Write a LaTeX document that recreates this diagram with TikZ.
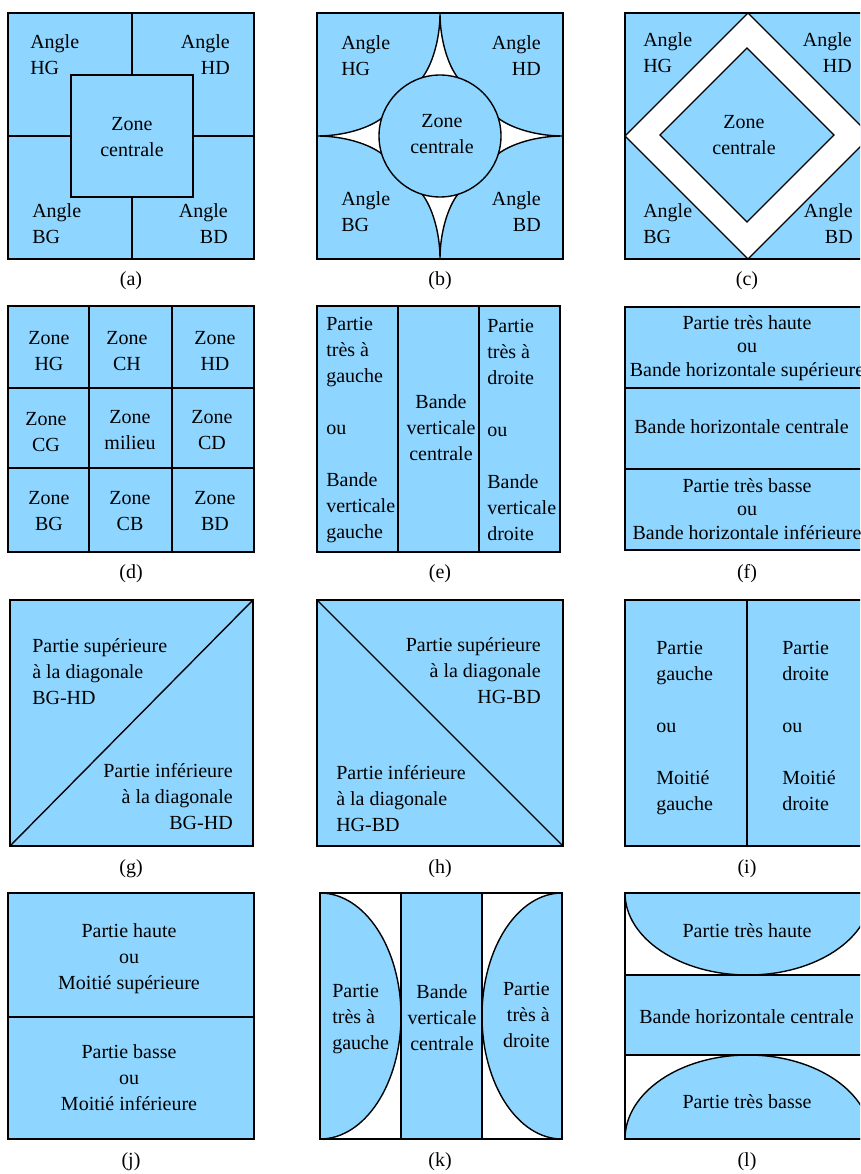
\documentclass[tikz,border=0pt]{standalone}
\usepackage{fontspec}
\setmainfont{Liberation Serif}
\usepackage{tikz}
\definecolor{bleuzone}{RGB}{142,214,255}
\newcommand{\policeA}{\fontsize{14.4pt}{18.72pt}\selectfont}
\newcommand{\policeB}{\fontsize{14.4pt}{16.92pt}\selectfont}
\tikzstyle{zone}   =[fill=bleuzone, draw=black, line width=1pt]
\tikzstyle{vide}   =[fill=white, draw=black, line width=1pt]
\tikzstyle{trait}  =[draw=black, line width=1pt]
\tikzstyle{texte}  =[inner sep=0pt, font=\policeA]
\tikzstyle{serre}  =[inner sep=0pt, font=\policeB]
\tikzstyle{legende}=[inner sep=0pt, font=\policeA]
\begin{document}
\begin{tikzpicture}[x=0.72pt, y=-0.72pt]
        \useasboundingbox (0,0) rectangle (860,1174);
        \clip (0,0) rectangle (860,1174);

        % (a)
        \filldraw[zone] (8,13) rectangle (254,259);
        \draw[trait] (132,13) -- (132,259) (8,136) -- (254,136);
        \filldraw[zone] (71,75) rectangle (193,197);
        \node[texte, anchor=north west, align=left] (aHG) at (30,30.5) {\strut Angle\\HG};
        \node[texte, anchor=north east, align=right] (aHD) at (230,30.5) {\strut Angle\\HD};
        \node[texte, anchor=north west, align=left] (aBG) at (32,198.8) {\strut Angle\\BG};
        \node[texte, anchor=north east, align=right] (aBD) at (228,198.8) {\strut Angle\\BD};
        \node[texte, anchor=north, align=center] (aZC) at (132,111.8) {\strut Zone\\centrale};
        \node[legende] (capa) at (131,281) {(a)};

        % (b)
        \filldraw[zone] (317,13) rectangle (563,259);
        \begin{scope}[shift={(440,136)}]
                \foreach \a in {0,90,180,270}
                        \filldraw[vide, rotate=\a] (0,-123) .. controls (0,-96) and (-8,-71) .. (-17.8,-58.3)
                                -- (0,-30) -- (17.8,-58.3) .. controls (8,-71) and (0,-96) .. (0,-123) -- cycle;
                \filldraw[zone] (0,0) circle (61);
        \end{scope}
        \node[texte, anchor=north west, align=left] (bHG) at (341,30.8) {\strut Angle\\HG};
        \node[texte, anchor=north east, align=right] (bHD) at (541,30.8) {\strut Angle\\HD};
        \node[texte, anchor=north west, align=left] (bBG) at (341,186.8) {\strut Angle\\BG};
        \node[texte, anchor=north east, align=right] (bBD) at (541,186.8) {\strut Angle\\BD};
        \node[texte, anchor=north, align=center] (bZC) at (442,108.8) {\strut Zone\\centrale};
        \node[legende] (capb) at (440,281) {(b)};

        % (c)
        \filldraw[zone] (625,13) rectangle (871,259);
        \filldraw[vide] (748,13) -- (625,136) -- (748,259) -- (871,136) -- cycle;
        \filldraw[zone] (747,48) -- (660,135) -- (747,222) -- (834,135) -- cycle;
        \node[texte, anchor=north west, align=left] (cHG) at (643,28.5) {\strut Angle\\HG};
        \node[texte, anchor=north east, align=right] (cHD) at (852,28.5) {\strut Angle\\HD};
        \node[texte, anchor=north west, align=left] (cBG) at (643,199.3) {\strut Angle\\BG};
        \node[texte, anchor=north east, align=right] (cBD) at (853,199.3) {\strut Angle\\BD};
        \node[texte, anchor=north, align=center] (cZC) at (744,109.8) {\strut Zone\\centrale};
        \node[legende] (capc) at (747,281) {(c)};

        % (d)
        \filldraw[zone] (8,306) rectangle (254,552);
        \draw[trait] (89,306) -- (89,552) (172,306) -- (172,552) (8,388) -- (254,388) (8,468) -- (254,468);
        \node[texte, anchor=north, align=center] (dHG) at (49,325.8) {\strut Zone\\HG};
        \node[texte, anchor=north, align=center] (dCH) at (127,325.8) {\strut Zone\\CH};
        \node[texte, anchor=north, align=center] (dHD) at (215,325.8) {\strut Zone\\HD};
        \node[texte, anchor=north, align=center] (dCG) at (46,406.8) {\strut Zone\\CG};
        \node[texte, anchor=north, align=center] (dMI) at (130,404.8) {\strut Zone\\milieu};
        \node[texte, anchor=north, align=center] (dCD) at (212,404.8) {\strut Zone\\CD};
        \node[texte, anchor=north, align=center] (dBG) at (49,485.8) {\strut Zone\\BG};
        \node[texte, anchor=north, align=center] (dCB) at (130,485.8) {\strut Zone\\CB};
        \node[texte, anchor=north, align=center] (dBD) at (215,485.8) {\strut Zone\\BD};
        \node[legende] (capd) at (131,574) {(d)};

        % (e)
        \filldraw[zone] (317,306) rectangle (560,552);
        \draw[trait] (398,306) -- (398,552) (479,306) -- (479,552);
        \node[texte, anchor=north west, align=left] (eG) at (326,311.8)
                {\strut Partie\\très à\\gauche\\[\baselineskip]ou\\[\baselineskip]Bande\\verticale\\gauche};
        \node[texte, anchor=north, align=center] (eC) at (441,389.8) {\strut Bande\\verticale\\centrale};
        \node[texte, anchor=north west, align=left] (eD) at (487,313.8)
                {\strut Partie\\très à\\droite\\[\baselineskip]ou\\[\baselineskip]Bande\\verticale\\droite};
        \node[legende] (cape) at (440,574) {(e)};

        % (f)
        \filldraw[zone] (625,307) rectangle (871,550);
        \draw[trait] (625,388) -- (871,388) (625,469) -- (871,469);
        \node[serre, anchor=north, align=center] (fH) at (747,312.6)
                {\strut Partie très haute\\ou\\Bande horizontale supérieure};
        \node[texte, anchor=north west] (fC) at (634,414.8) {\strut Bande horizontale centrale};
        \node[serre, anchor=north, align=center] (fB) at (747,475.6)
                {\strut Partie très basse\\ou\\Bande horizontale inférieure};
        \node[legende] (capf) at (747,574) {(f)};

        % (g)
        \filldraw[zone] (10,600) rectangle (253,846);
        \draw[trait] (10,846) -- (253,600);
        \node[texte, anchor=north west, align=left] (gS) at (32,633.8)
                {\strut Partie supérieure\\à la diagonale\\BG-HD};
        \node[texte, anchor=north east, align=right] (gI) at (233,758.8)
                {\strut Partie inférieure\\à la diagonale\\BG-HD};
        \node[legende] (capg) at (131,869) {(g)};

        % (h)
        \filldraw[zone] (317,600) rectangle (563,846);
        \draw[trait] (317,600) -- (563,846);
        \node[texte, anchor=north east, align=right] (hS) at (541,632.8)
                {\strut Partie supérieure\\à la diagonale\\HG-BD};
        \node[texte, anchor=north west, align=left] (hI) at (336,760.8)
                {\strut Partie inférieure\\à la diagonale\\HG-BD};
        \node[legende] (caph) at (440,869) {(h)};

        % (i)
        \filldraw[zone] (625,600) rectangle (871,846);
        \draw[trait] (747,600) -- (747,846);
        \node[texte, anchor=north west, align=left] (iG) at (656,635.8)
                {\strut Partie\\gauche\\[\baselineskip]ou\\[\baselineskip]Moitié\\gauche};
        \node[texte, anchor=north west, align=left] (iD) at (782,635.8)
                {\strut Partie\\droite\\[\baselineskip]ou\\[\baselineskip]Moitié\\droite};
        \node[legende] (capi) at (747,869) {(i)};

        % (j)
        \filldraw[zone] (8,893) rectangle (254,1139);
        \draw[trait] (8,1017) -- (254,1017);
        \node[texte, anchor=north, align=center] (jH) at (129,918.8) {\strut Partie haute\\ou\\Moitié supérieure};
        \node[texte, anchor=north, align=center] (jB) at (129,1039.8) {\strut Partie basse\\ou\\Moitié inférieure};
        \node[legende] (capj) at (131,1162) {(j)};

        % (k)
        \filldraw[zone] (320,893) arc (-90:90:81 and 123) -- cycle;
        \filldraw[zone] (562,893) arc (270:90:80 and 123) -- cycle;
        \filldraw[zone] (401,893) rectangle (482,1139);
        \draw[trait] (320,893) rectangle (562,1139);
        \node[texte, anchor=north west, align=left] (kG) at (332,978.8) {\strut Partie\\très à\\gauche};
        \node[texte, anchor=north, align=center] (kC) at (442,979.8) {\strut Bande\\verticale\\centrale};
        \node[texte, anchor=north east, align=right] (kD) at (550,976.8) {\strut Partie\\très à\\droite};
        \node[legende] (capk) at (440,1162) {(k)};

        % (l)
        \filldraw[zone] (625,893) arc (180:0:123 and 82) -- cycle;
        \filldraw[zone] (625,1139) arc (180:360:123 and 84) -- cycle;
        \filldraw[zone] (625,975) rectangle (871,1055);
        \draw[trait] (625,893) rectangle (871,1139);
        \node[texte, anchor=north, align=center] (lH) at (747,918.8) {\strut Partie très haute};
        \node[texte, anchor=north west] (lC) at (639,1004.8) {\strut Bande horizontale centrale};
        \node[texte, anchor=north, align=center] (lB) at (747,1089.8) {\strut Partie très basse};
        \node[legende] (capl) at (747,1162) {(l)};

\end{tikzpicture}
\end{document}
